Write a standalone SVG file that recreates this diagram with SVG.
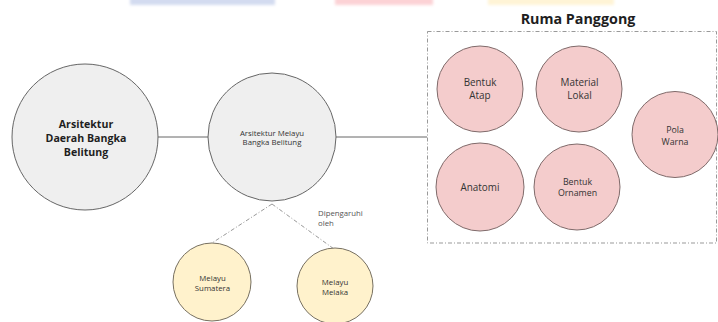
<svg xmlns="http://www.w3.org/2000/svg" width="718" height="322" viewBox="0 0 718 322">
  <defs>
    <filter id="soft" x="-10%" y="-100%" width="120%" height="300%">
      <feGaussianBlur stdDeviation="1.5"/>
    </filter>
  </defs>
  <style>
    text { font-family: "Open Sans", "Noto Sans", "Liberation Sans", sans-serif; fill: #333; text-anchor: middle; }
    .bold { font-weight: bold; fill: #1e1e1e; }
    .grey { fill: #efefef; stroke: #666; stroke-width: 1; }
    .pink { fill: #f4cccc; stroke: #7f6a6a; stroke-width: 1; }
    .yellow { fill: #fff2cc; stroke: #777060; stroke-width: 1; }
    .solid { stroke: #666; stroke-width: 1; fill: none; }
    .dashdot { stroke: #999; stroke-width: 1; fill: none; stroke-dasharray: 4 2 1 2; }
    .sm { font-size: 7.8px; }
    .md { font-size: 8.8px; }
    .lg { font-size: 9.9px; }
  </style>
  <rect width="718" height="322" fill="#ffffff"/>
  <g id="top-bars" filter="url(#soft)">
    <rect x="130" y="-4" width="145" height="9" fill="#d3dbf0"/>
    <rect x="335" y="-4" width="98" height="9" fill="#fcd2d5"/>
    <rect x="488" y="-4" width="126" height="9" fill="#fff4d6"/>
  </g>
  <g id="connectors">
    <line class="solid" x1="157" y1="137" x2="208" y2="137"/>
    <line class="solid" x1="336" y1="137" x2="427" y2="137"/>
    <line class="dashdot" x1="272" y1="204" x2="212" y2="243"/>
    <line class="dashdot" x1="272" y1="204" x2="334" y2="249"/>
    <text class="sm" x="318" y="216" style="text-anchor:start;fill:#555">Dipengaruhi</text>
    <text class="sm" x="318" y="225.5" style="text-anchor:start;fill:#555">oleh</text>
  </g>
  <g id="group-ruma-panggong">
    <rect class="dashdot" x="427.5" y="31.5" width="289" height="211.5"/>
    <text class="bold" x="578" y="24" style="font-size:14.3px">Ruma Panggong</text>
  </g>
  <g id="node-arsitektur-daerah">
    <circle class="grey" cx="85" cy="137" r="73"/>
    <text class="bold" x="86" y="128" style="font-size:10.6px">Arsitektur</text>
    <text class="bold" x="86" y="142" style="font-size:10.6px">Daerah Bangka</text>
    <text class="bold" x="86" y="156" style="font-size:10.6px">Belitung</text>
  </g>
  <g id="node-arsitektur-melayu">
    <circle class="grey" cx="272" cy="137" r="64"/>
    <text class="sm" x="272" y="135.5">Arsitektur Melayu</text>
    <text class="sm" x="272" y="145">Bangka Belitung</text>
  </g>
  <g id="node-melayu-sumatera">
    <circle class="yellow" cx="212" cy="282" r="39"/>
    <text class="sm" x="212.5" y="281">Melayu</text>
    <text class="sm" x="212.5" y="290.5">Sumatera</text>
  </g>
  <g id="node-melayu-melaka">
    <circle class="yellow" cx="335" cy="286" r="38"/>
    <text class="sm" x="335" y="284.5">Melayu</text>
    <text class="sm" x="335" y="294.5">Melaka</text>
  </g>
  <g id="node-bentuk-atap">
    <circle class="pink" cx="480" cy="89" r="43"/>
    <text class="lg" x="480" y="86">Bentuk</text>
    <text class="lg" x="480" y="98.5">Atap</text>
  </g>
  <g id="node-material-lokal">
    <circle class="pink" cx="579" cy="89" r="43"/>
    <text class="lg" x="579.5" y="86">Material</text>
    <text class="lg" x="579.5" y="98.5">Lokal</text>
  </g>
  <g id="node-anatomi">
    <circle class="pink" cx="480" cy="187" r="44"/>
    <text class="lg" x="480" y="190.5">Anatomi</text>
  </g>
  <g id="node-bentuk-ornamen">
    <circle class="pink" cx="577" cy="187" r="43"/>
    <text class="md" x="577.5" y="184.5">Bentuk</text>
    <text class="md" x="577.5" y="196">Ornamen</text>
  </g>
  <g id="node-pola-warna">
    <circle class="pink" cx="675" cy="134.5" r="43"/>
    <text class="md" x="675" y="133">Pola</text>
    <text class="md" x="675" y="144.5">Warna</text>
  </g>
</svg>
